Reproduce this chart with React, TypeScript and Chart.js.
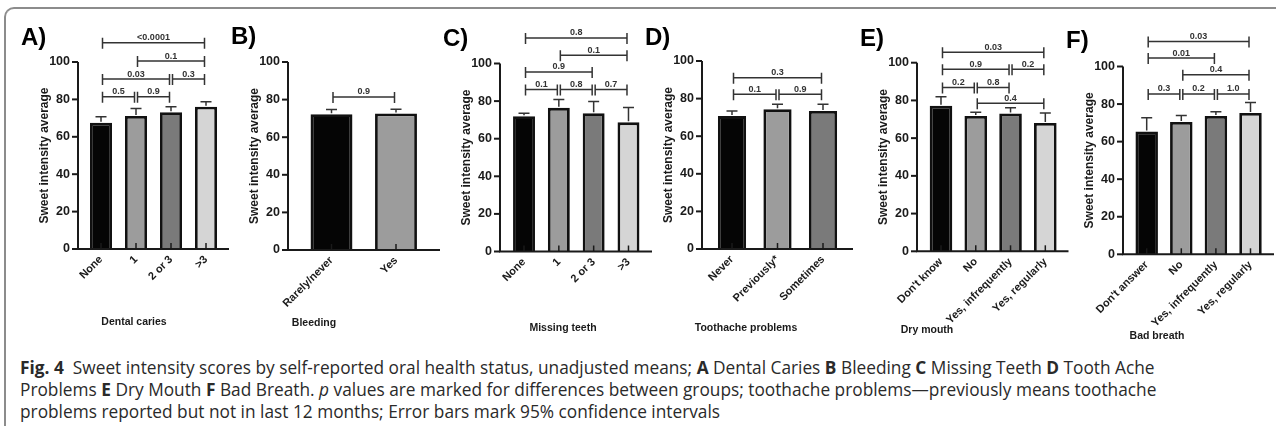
import React, { useEffect, useRef } from "react";
import { Chart, registerables } from "chart.js";

Chart.register(...registerables);

// ---------- DATA ----------
type Bracket = [number, number, number, string]; // from index, to index, level (score units), p value

const cariesLabels = ["None", "1", "2 or 3", ">3"];
const cariesMeans = [67.5, 71.1, 73.1, 76.1];
const cariesUpper = [70.7, 75.2, 76.1, 78.8];
const cariesP: Bracket[] = [
  [0, 3, 110.3, "<0.0001"],
  [1, 3, 100.5, "0.1"],
  [0, 2, 90.9, "0.03"],
  [2, 3, 90.9, "0.3"],
  [0, 1, 81.4, "0.5"],
  [1, 2, 81.4, "0.9"],
];

const bleedingLabels = ["Rarely/never", "Yes"];
const bleedingMeans = [72.2, 72.6];
const bleedingUpper = [74.7, 74.9];
const bleedingP: Bracket[] = [[0, 1, 81.4, "0.9"]];

const missingLabels = ["None", "1", "2 or 3", ">3"];
const missingMeans = [72.0, 76.4, 73.5, 68.7];
const missingUpper = [73.5, 80.9, 79.8, 76.6];
const missingP: Bracket[] = [
  [0, 3, 113.6, "0.8"],
  [1, 3, 104.4, "0.1"],
  [0, 2, 95.5, "0.9"],
  [0, 1, 86.2, "0.1"],
  [1, 2, 86.2, "0.8"],
  [2, 3, 86.2, "0.7"],
];

const toothacheLabels = ["Never", "Previously*", "Sometimes"];
const toothacheMeans = [70.7, 74.3, 73.4];
const toothacheUpper = [73.4, 77.0, 77.0];
const toothacheP: Bracket[] = [
  [0, 2, 91.1, "0.3"],
  [0, 1, 82.3, "0.1"],
  [1, 2, 82.3, "0.9"],
];

const dryLabels = ["Don't know", "No", "Yes, infrequently", "Yes, regularly"];
const dryMeans = [77.2, 71.7, 73.0, 68.0];
const dryUpper = [82.0, 73.7, 76.1, 73.3];
const dryP: Bracket[] = [
  [0, 3, 105.5, "0.03"],
  [0, 2, 96.5, "0.9"],
  [2, 3, 96.5, "0.2"],
  [0, 1, 86.9, "0.2"],
  [1, 2, 86.9, "0.8"],
  [1, 3, 78.5, "0.4"],
];

const breathLabels = ["Don't answer", "No", "Yes, infrequently", "Yes, regularly"];
const breathMeans = [65.4, 70.5, 73.7, 75.2];
const breathUpper = [72.7, 73.9, 75.9, 80.8];
const breathP: Bracket[] = [
  [0, 3, 113.3, "0.03"],
  [0, 2, 104.5, "0.01"],
  [1, 3, 95.6, "0.4"],
  [0, 1, 85.4, "0.3"],
  [1, 2, 85.4, "0.2"],
  [2, 3, 85.4, "1.0"],
];

const yMin = 0;
const yMax = 100;
const yStep = 20;
const yTitle = "Sweet intensity average";

// ---------- STYLE / LAYOUT ----------
const BLACK = "#050505";
const G1 = "#9c9c9c";
const G2 = "#7a7a7a";
const G3 = "#d5d5d5";
const INK = "#1a1a1a";
const FONT = "'Liberation Sans', Arial, sans-serif";

const W = 1276;
const H = 345;

type Panel = {
  letter: string;
  labels: string[];
  means: number[];
  upper: number[];
  brackets: Bracket[];
  colors: string[];
  xTitle: string;
  axisX: number;
  left: number;
  right: number;
  axisEnd: number;
  top: number;
  bottom: number;
  barPct: number;
  xTitleX: number;
  xTitleY: number;
  letterY: number;
};

const panels: Panel[] = [
  {
    letter: "A)", labels: cariesLabels, means: cariesMeans, upper: cariesUpper, brackets: cariesP,
    colors: [BLACK, G1, G2, G3], xTitle: "Dental caries",
    axisX: 78, left: 83.5, right: 223.5, axisEnd: 229, top: 62, bottom: 249, barPct: 0.63,
    xTitleX: 134, xTitleY: 322, letterY: 45,
  },
  {
    letter: "B)", labels: bleedingLabels, means: bleedingMeans, upper: bleedingUpper, brackets: bleedingP,
    colors: [BLACK, G1], xTitle: "Bleeding",
    axisX: 288, left: 299.25, right: 428.25, axisEnd: 440, top: 62, bottom: 250, barPct: 0.65,
    xTitleX: 314, xTitleY: 323, letterY: 44,
  },
  {
    letter: "C)", labels: missingLabels, means: missingMeans, upper: missingUpper, brackets: missingP,
    colors: [BLACK, G1, G2, G3], xTitle: "Missing teeth",
    axisX: 500, left: 506.6, right: 645.9, axisEnd: 652, top: 63.5, bottom: 251.5, barPct: 0.63,
    xTitleX: 563, xTitleY: 328, letterY: 46,
  },
  {
    letter: "D)", labels: toothacheLabels, means: toothacheMeans, upper: toothacheUpper, brackets: toothacheP,
    colors: [BLACK, G1, G2], xTitle: "Toothache problems",
    axisX: 702, left: 709.25, right: 845.75, axisEnd: 853, top: 61, bottom: 249, barPct: 0.62,
    xTitleX: 746, xTitleY: 328, letterY: 45,
  },
  {
    letter: "E)", labels: dryLabels, means: dryMeans, upper: dryUpper, brackets: dryP,
    colors: [BLACK, G1, G2, G3], xTitle: "Dry mouth",
    axisX: 917, left: 923.6, right: 1062.7, axisEnd: 1068.5, top: 62.7, bottom: 251.3, barPct: 0.65,
    xTitleX: 927, xTitleY: 330, letterY: 46,
  },
  {
    letter: "F)", labels: breathLabels, means: breathMeans, upper: breathUpper, brackets: breathP,
    colors: [BLACK, G1, G2, G3], xTitle: "Bad breath",
    axisX: 1123, left: 1129.4, right: 1267.8, axisEnd: 1274, top: 66.5, bottom: 254.3, barPct: 0.65,
    xTitleX: 1157, xTitleY: 336, letterY: 48,
  },
];

function makeDeco(p: Panel) {
  return {
    id: "deco",
    afterDatasetsDraw(chart: any) {
      const ctx: CanvasRenderingContext2D = chart.ctx;
      const xs = chart.scales.x;
      const ys = chart.scales.y;
      const area = chart.chartArea;
      ctx.save();
      // error bars (upper whisker)
      ctx.strokeStyle = "#333";
      ctx.lineWidth = 1.5;
      p.means.forEach((m, i) => {
        const cx = xs.getPixelForValue(i);
        const yT = ys.getPixelForValue(m);
        const yU = ys.getPixelForValue(p.upper[i]);
        ctx.beginPath();
        ctx.moveTo(cx, yT - 1);
        ctx.lineTo(cx, yU);
        ctx.moveTo(cx - 5.5, yU);
        ctx.lineTo(cx + 5.5, yU);
        ctx.stroke();
      });
      // axes
      ctx.strokeStyle = INK;
      ctx.lineWidth = 2;
      ctx.beginPath();
      ctx.moveTo(p.axisX, ys.getPixelForValue(yMax));
      ctx.lineTo(p.axisX, area.bottom);
      ctx.lineTo(p.axisEnd, area.bottom);
      ctx.stroke();
      // y tick marks
      for (let v = yMin; v <= yMax; v += yStep) {
        const y = ys.getPixelForValue(v);
        ctx.beginPath();
        ctx.moveTo(p.axisX - 6, y);
        ctx.lineTo(p.axisX, y);
        ctx.stroke();
      }
      // x tick marks (pointing up into bars)
      ctx.lineWidth = 1.5;
      p.labels.forEach((_, i) => {
        const cx = xs.getPixelForValue(i);
        ctx.beginPath();
        ctx.moveTo(cx, area.bottom);
        ctx.lineTo(cx, area.bottom - 6);
        ctx.stroke();
      });
      // significance brackets
      ctx.strokeStyle = "#333";
      ctx.fillStyle = "#333";
      ctx.lineWidth = 1.5;
      ctx.font = `bold 9px ${FONT}`;
      ctx.textAlign = "center";
      ctx.textBaseline = "alphabetic";
      p.brackets.forEach(([a, b, lvl, txt]) => {
        const x1 = xs.getPixelForValue(a) + 1.5;
        const x2 = xs.getPixelForValue(b) - 1.5;
        const y = ys.getPixelForValue(lvl);
        ctx.beginPath();
        ctx.moveTo(x1, y);
        ctx.lineTo(x2, y);
        ctx.moveTo(x1, y - 5);
        ctx.lineTo(x1, y + 6);
        ctx.moveTo(x2, y - 5);
        ctx.lineTo(x2, y + 6);
        ctx.stroke();
        ctx.fillText(txt, (x1 + x2) / 2, y - 2.5);
      });
      // panel letter
      ctx.fillStyle = "#000";
      ctx.font = `bold 24px ${FONT}`;
      ctx.textAlign = "left";
      ctx.fillText(p.letter, p.axisX - 57, p.letterY);
      // x axis title
      ctx.fillStyle = INK;
      ctx.font = `bold 10.5px ${FONT}`;
      ctx.textAlign = "center";
      ctx.textBaseline = "middle";
      ctx.fillText(p.xTitle, p.xTitleX, p.xTitleY);
      ctx.restore();
    },
  };
}

function PanelChart({ p }: { p: Panel }) {
  const ref = useRef<HTMLCanvasElement | null>(null);
  useEffect(() => {
    if (!ref.current) return;
    const yTitleX = p.axisX - 33;
    const titleFont = 12;
    const yw = p.left - yTitleX + (titleFont * 1.2) / 2;
    const chart = new Chart(ref.current, {
      type: "bar",
      data: {
        labels: p.labels,
        datasets: [
          {
            data: p.means,
            backgroundColor: p.colors,
            borderColor: "#111",
            borderWidth: 2.8,
            borderSkipped: "start",
            barPercentage: p.barPct,
            categoryPercentage: 1,
          } as any,
        ],
      },
      options: {
        animation: false,
        responsive: false,
        events: [],
        layout: { padding: { left: p.left - yw, right: W - p.right, top: p.top, bottom: 0 } },
        plugins: { legend: { display: false }, tooltip: { enabled: false }, title: { display: false } },
        scales: {
          x: {
            type: "category",
            offset: true,
            grid: { display: false, drawTicks: false },
            border: { display: false },
            ticks: {
              autoSkip: false,
              minRotation: 45,
              maxRotation: 45,
              padding: 4,
              color: INK,
              font: { family: FONT, weight: "bold", size: 11 },
            },
            afterFit: (s: any) => {
              s.height = H - p.bottom;
            },
          },
          y: {
            min: yMin,
            max: yMax,
            grid: { display: false, drawTicks: false },
            border: { display: false },
            ticks: {
              stepSize: yStep,
              padding: p.left - p.axisX + 8,
              color: INK,
              font: { family: FONT, weight: "bold", size: 12.5 },
            },
            title: {
              display: true,
              text: yTitle,
              color: INK,
              padding: 0,
              font: { family: FONT, weight: "bold", size: titleFont },
            },
            afterFit: (s: any) => {
              s.width = yw;
            },
          },
        },
      } as any,
      plugins: [makeDeco(p)],
    });
    return () => chart.destroy();
  }, [p]);
  return (
    <canvas
      ref={ref}
      width={W}
      height={H}
      style={{ position: "absolute", left: 0, top: 0, width: W, height: H }}
    />
  );
}

export default function App() {
  return (
    <div style={{ position: "absolute", left: 0, top: 0, width: W, height: 426, background: "#fff", overflow: "hidden" }}>
      <div
        style={{
          position: "absolute",
          left: 4,
          top: 7,
          width: 1400,
          height: 600,
          borderTop: "2px solid #8c8c8c",
          borderLeft: "2px solid #8c8c8c",
          borderTopLeftRadius: 10,
        }}
      />
      {panels.map((p, i) => (
        <PanelChart key={i} p={p} />
      ))}
      <div
        style={{
          position: "absolute",
          left: 20,
          top: 357,
          fontFamily: "'Open Sans', sans-serif",
          fontSize: 17.3,
          lineHeight: "22px",
          color: "#2a2a2a",
          whiteSpace: "nowrap",
        }}
      >
        <div>
          <b>Fig. 4</b>&nbsp;&nbsp;Sweet intensity scores by self-reported oral health status, unadjusted means; <b>A</b> Dental
          Caries <b>B</b> Bleeding <b>C</b> Missing Teeth <b>D</b> Tooth Ache
        </div>
        <div>
          Problems <b>E</b> Dry Mouth <b>F</b> Bad Breath. <i>p</i> values are marked for differences between groups; toothache
          problems—previously means toothache
        </div>
        <div>problems reported but not in last 12 months; Error bars mark 95% confidence intervals</div>
      </div>
    </div>
  );
}
